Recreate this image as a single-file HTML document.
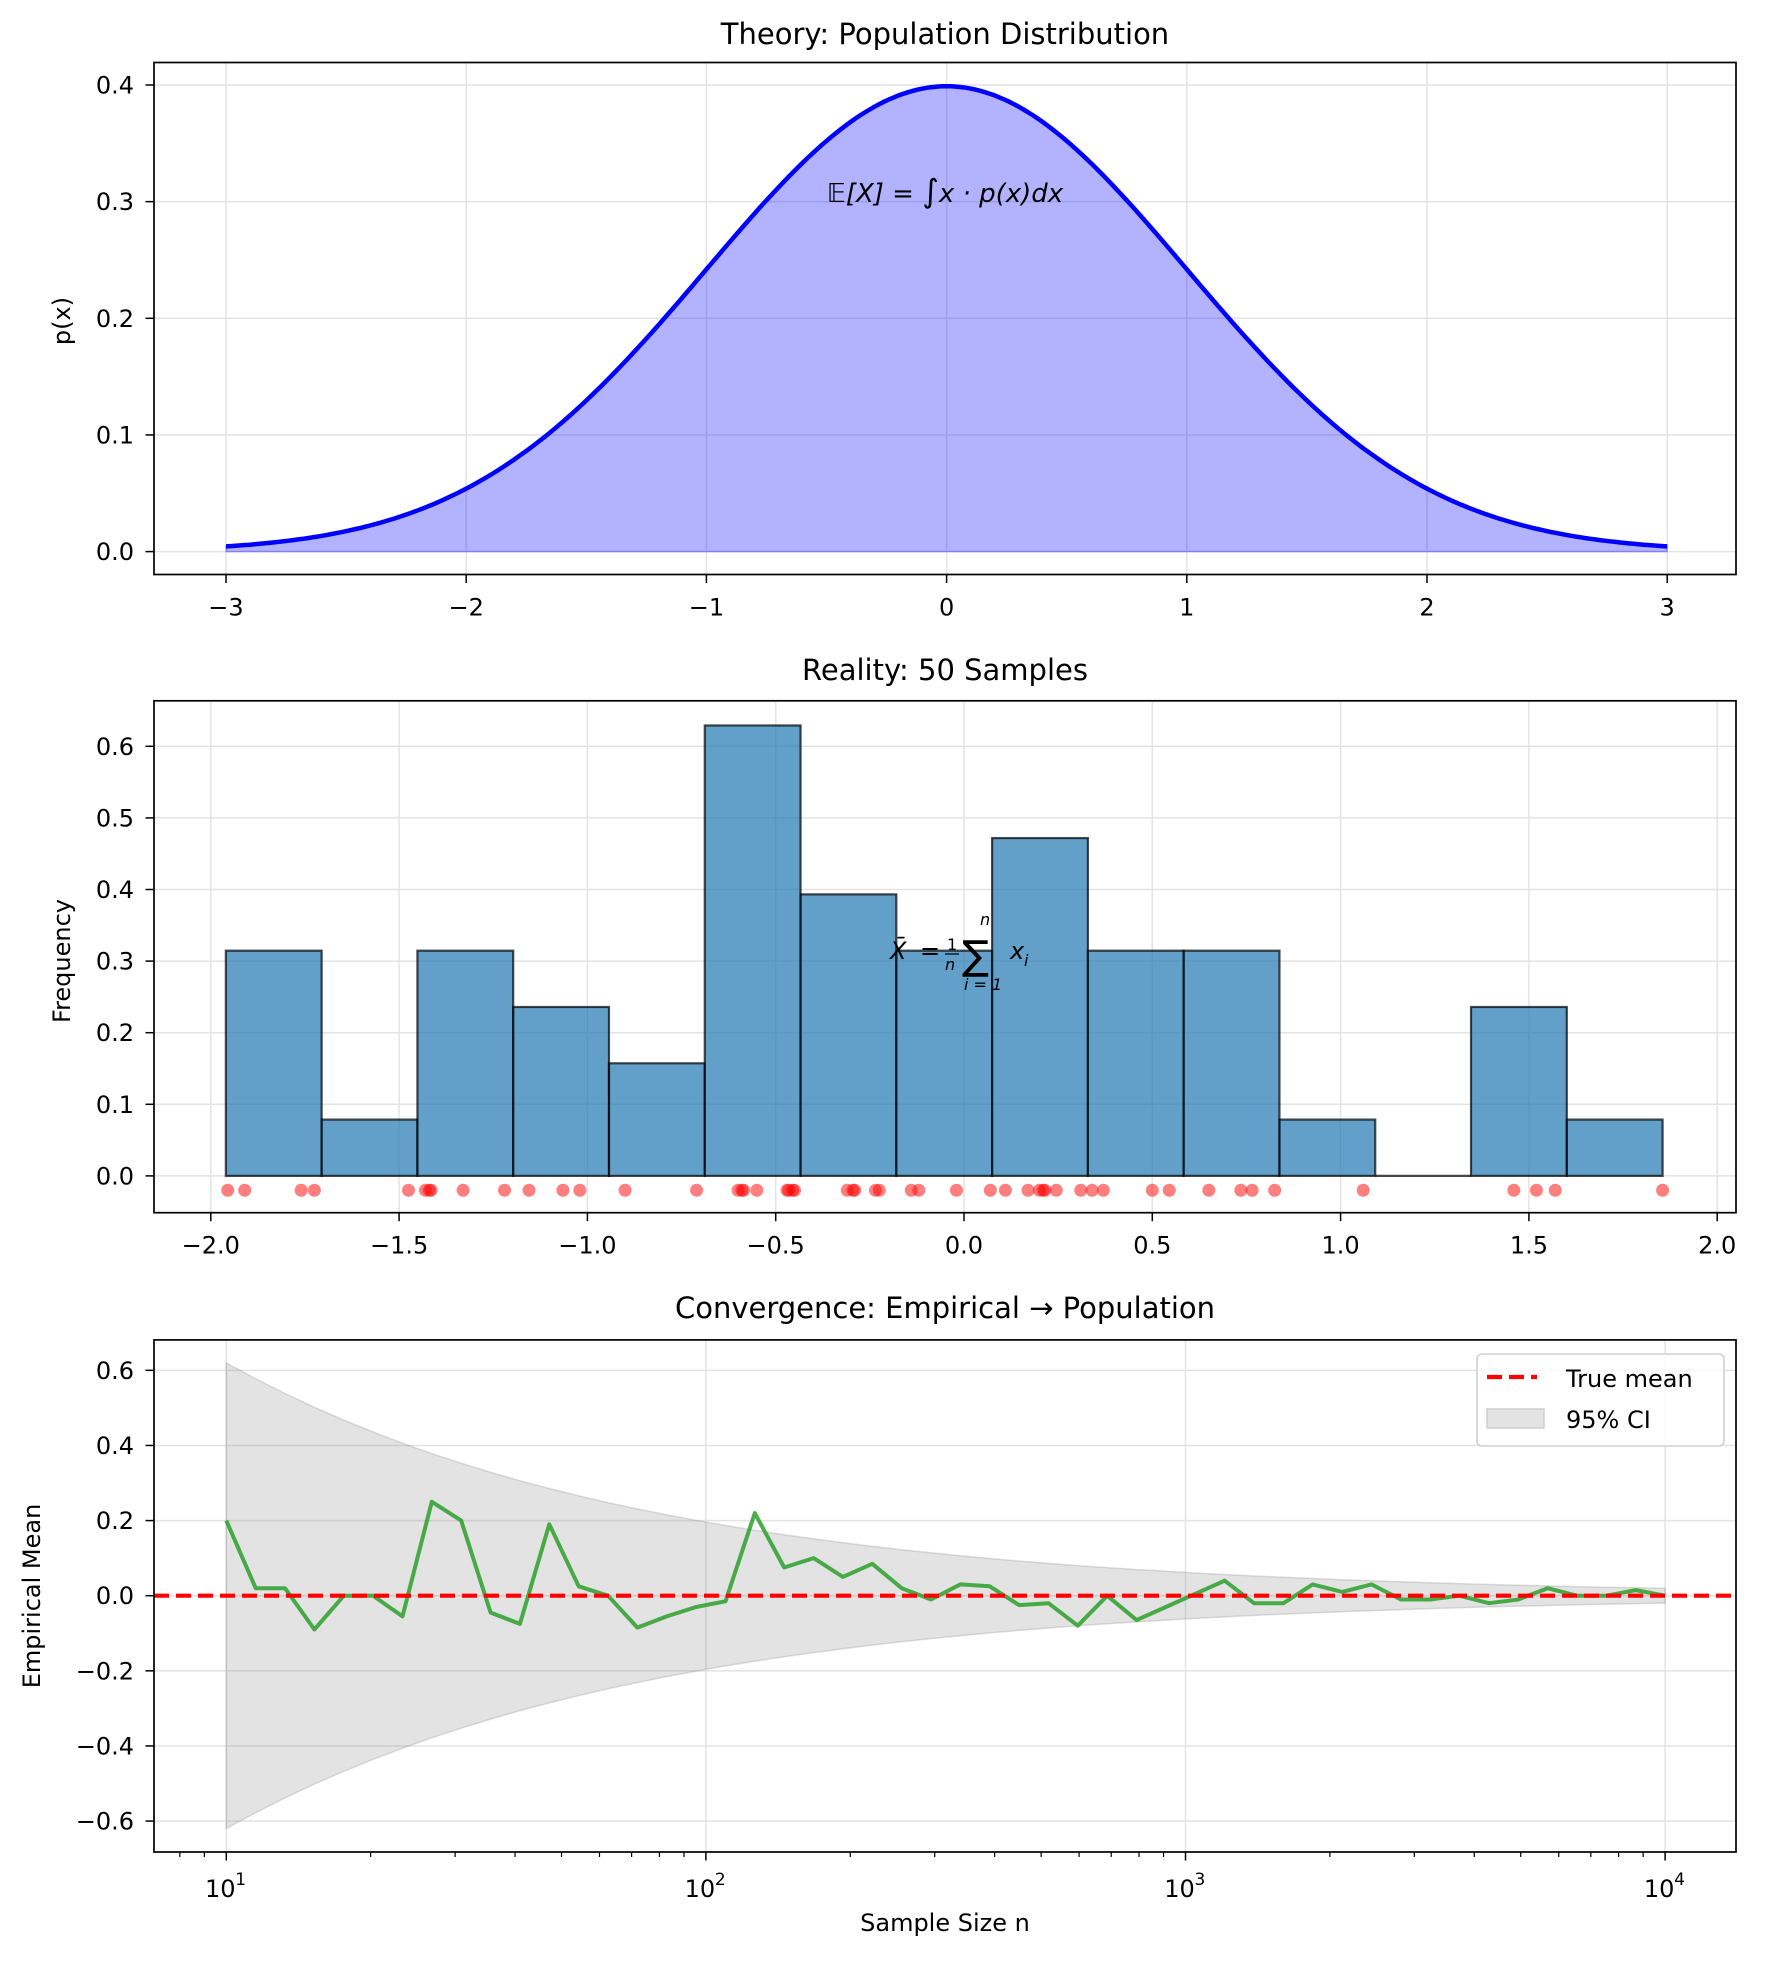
<!DOCTYPE html>
<html><head><meta charset="utf-8"><style>
html,body{margin:0;padding:0;background:#fff}
svg{display:block}
text{font-family:"DejaVu Sans","Liberation Sans",sans-serif;fill:#000}
</style></head><body>
<svg id="s" width="1765" height="1964" viewBox="0 0 1765 1964" xmlns="http://www.w3.org/2000/svg">
<rect width="1765" height="1964" fill="#fff"/>
<g id="g"></g>
<text x="945" y="44" font-size="29" text-anchor="middle">Theory: Population Distribution</text>
<text x="945" y="680" font-size="29" text-anchor="middle">Reality: 50 Samples</text>
<text x="945" y="1318" font-size="29" text-anchor="middle">Convergence: Empirical → Population</text>
<text transform="translate(70,321) rotate(-90)" font-size="24" text-anchor="middle">p(x)</text>
<text transform="translate(70,961) rotate(-90)" font-size="24" text-anchor="middle">Frequency</text>
<text transform="translate(40,1596) rotate(-90)" font-size="24" text-anchor="middle">Empirical Mean</text>
<text x="945" y="1931" font-size="24" text-anchor="middle">Sample Size n</text>
<text x="945" y="202" font-size="26" text-anchor="middle" font-style="italic"><tspan font-style="normal">𝔼</tspan>[X] = <tspan font-style="normal" font-size="32">∫</tspan>x · p(x)dx</text>
<g id="leg"></g>
</svg>
<script>
var NS="http://www.w3.org/2000/svg",G=document.getElementById("g"),LG=document.getElementById("leg");
function el(t,a,txt,par){var e=document.createElementNS(NS,t);for(var k in a)e.setAttribute(k,a[k]);if(txt!==undefined&&txt!==null)e.textContent=txt;(par||G).appendChild(e);return e;}
var L=154,R=1736;
function fmt(v,d){var s=Math.abs(v).toFixed(d);return (v<-1e-9?"\u2212":"")+s;}
function frame(T,B){el("rect",{x:L,y:T,width:R-L,height:B-T,fill:"none",stroke:"#000","stroke-width":1.7});}
function yt(py,lab){el("line",{x1:L,y1:py,x2:R,y2:py,stroke:"#e3e3e3","stroke-width":1.5});el("line",{x1:L-8.5,y1:py,x2:L,y2:py,stroke:"#000","stroke-width":1.5});el("text",{x:134,y:py+8.5,"font-size":24,"text-anchor":"end"},lab);}
function xt(px,lab,T,B){el("line",{x1:px,y1:T,x2:px,y2:B,stroke:"#e3e3e3","stroke-width":1.5});el("line",{x1:px,y1:B,x2:px,y2:B+8.5,stroke:"#000","stroke-width":1.5});el("text",{x:px,y:B+41,"font-size":24,"text-anchor":"middle"},lab);}
// Panel 1
var T1=62.5,B1=574.5;
function X1(x){return 946.6+240.2*x}function Y1(p){return 551.6-1166.5*p}
for(var i=0;i<=4;i++)yt(Y1(i/10),(i/10).toFixed(1));
for(var i=-3;i<=3;i++)xt(X1(i),fmt(i,0),T1,B1);
var pts=[];for(var i=0;i<=300;i++){var x=-3+6*i/300;pts.push(X1(x).toFixed(1)+","+Y1(Math.exp(-x*x/2)/Math.sqrt(2*Math.PI)).toFixed(1));}
el("path",{d:"M"+X1(-3)+","+Y1(0)+" L"+pts.join(" L")+" L"+X1(3)+","+Y1(0)+"Z",fill:"#0000ff","fill-opacity":0.3,stroke:"#0000ff","stroke-opacity":0.3,"stroke-width":1.5});
el("polyline",{points:pts.join(" "),fill:"none",stroke:"#0000ff","stroke-width":4.5});
frame(T1,B1);
// Panel 2
var T2=700.8,B2=1212.7;
function X2(x){return 964+376.6*x}function Y2(v){return 1175.9-716*v}
for(var i=0;i<=6;i++)yt(Y2(i/10),(i/10).toFixed(1));
for(var i=-4;i<=4;i++)xt(X2(i/2),fmt(i/2,1),T2,B2);
var counts=[4,1,4,3,2,8,5,4,6,4,4,1,0,3,1],x0=-1.96,w=(1.855+1.96)/15;
for(var i=0;i<15;i++){var h=counts[i]/(50*w);if(h>0)el("rect",{x:X2(x0+i*w),y:Y2(h),width:376.6*w,height:716*h,fill:"#1f77b4","fill-opacity":0.7,stroke:"#000","stroke-opacity":0.7,"stroke-width":2.2});else el("line",{x1:X2(x0+i*w),y1:Y2(0),x2:X2(x0+(i+1)*w),y2:Y2(0),stroke:"#000","stroke-opacity":0.7,"stroke-width":2.2});}
var xs=[-1.955,-1.91,-1.76,-1.725,-1.475,-1.43,-1.42,-1.415,-1.33,-1.22,-1.155,-1.065,-1.02,-0.9,-0.71,-0.6,-0.59,-0.585,-0.55,-0.47,-0.465,-0.455,-0.45,-0.31,-0.295,-0.29,-0.235,-0.225,-0.14,-0.12,-0.02,0.07,0.11,0.17,0.2,0.21,0.215,0.245,0.31,0.34,0.37,0.5,0.545,0.65,0.735,0.765,0.825,1.06,1.46,1.52,1.57,1.855];
xs.forEach(function(x){el("circle",{cx:X2(x),cy:Y2(-0.02),r:6.5,fill:"#ff0000","fill-opacity":0.5});});
frame(T2,B2);
// formula 2
(function(){var g=el("g",{"font-style":"italic"});
el("text",{x:890,y:959,"font-size":24},"X̄",g);
el("text",{x:920,y:959,"font-size":24,"font-style":"normal"},"=",g);
el("text",{x:947,y:950,"font-size":16,"font-style":"normal"},"1",g);
el("line",{x1:945,y1:954,x2:959,y2:954,stroke:"#000","stroke-width":1.2},null,g);
el("text",{x:945,y:970,"font-size":16},"n",g);
el("text",{x:962,y:969,"font-size":40,"font-style":"normal"},"∑",g);
el("text",{x:980,y:925,"font-size":16},"n",g);
el("text",{x:964,y:990,"font-size":16},"i = 1",g);
el("text",{x:1010,y:959,"font-size":24},"x",g);
el("text",{x:1024,y:966,"font-size":16},"i",g);})();
// Panel 3
var T3=1339.9,B3=1852;
function X3(n){return 226.3+479.6*(Math.log10(n)-1)}function Y3(v){return 1595.7-375.6*v}
for(var i=-3;i<=3;i++)yt(Y3(i*0.2),fmt(i*0.2,1));
for(var d=1;d<=4;d++){var px=X3(Math.pow(10,d));el("line",{x1:px,y1:T3,x2:px,y2:B3,stroke:"#e3e3e3","stroke-width":1.5});el("line",{x1:px,y1:B3,x2:px,y2:B3+8.5,stroke:"#000","stroke-width":1.5});
el("text",{x:px-6,y:B3+45,"font-size":24,"text-anchor":"middle"},"10");el("text",{x:px+9,y:B3+33,"font-size":17},""+d);}
for(var d=0;d<=3;d++)for(var m=2;m<=9;m++){var n=m*Math.pow(10,d);var px=X3(n);if(px<L||px>R)continue;el("line",{x1:px,y1:B3,x2:px,y2:B3+5,stroke:"#000","stroke-width":1.2});}
var N=50,ns=[];for(var i=0;i<N;i++)ns.push(Math.pow(10,1+3*i/(N-1)));
var up=[],lo=[];ns.forEach(function(n){var c=1.96/Math.sqrt(n);up.push(X3(n).toFixed(1)+","+Y3(c).toFixed(1));lo.unshift(X3(n).toFixed(1)+","+Y3(-c).toFixed(1));});
el("path",{d:"M"+up.join(" L")+" L"+lo.join(" L")+"Z",fill:"#808080","fill-opacity":0.22,stroke:"#808080","stroke-opacity":0.25,"stroke-width":1.5});
var v=[0.20,0.02,0.02,-0.09,0,0,-0.055,0.25,0.20,-0.045,-0.075,0.19,0.025,0,-0.085,-0.055,-0.03,-0.015,0.22,0.075,0.10,0.05,0.085,0.02,-0.01,0.03,0.025,-0.025,-0.02,-0.08,
0.0,-0.065,-0.03,0.005,0.04,-0.02,-0.02,0.03,0.01,0.03,-0.01,-0.01,0,-0.02,-0.01,0.02,0,0,0.015,0];
var gp=[];for(var i=0;i<N;i++)gp.push(X3(ns[i]).toFixed(1)+","+Y3(v[i]).toFixed(1));
el("polyline",{points:gp.join(" "),fill:"none",stroke:"#2ca02c","stroke-opacity":0.85,"stroke-width":4,"stroke-linejoin":"round"});
el("line",{x1:L,y1:Y3(0),x2:R,y2:Y3(0),stroke:"#ff0000","stroke-width":4.2,"stroke-dasharray":"15,7"});
frame(T3,B3);
// legend
el("rect",{x:1477,y:1354,width:247,height:92,rx:5,fill:"#fff","fill-opacity":0.8,stroke:"#d0d0d0","stroke-width":1.6},null,LG);
el("line",{x1:1487,y1:1377,x2:1537,y2:1377,stroke:"#f00","stroke-width":4.2,"stroke-dasharray":"15,7"},null,LG);
el("text",{x:1566,y:1387,"font-size":24},"True mean",LG);
el("rect",{x:1487,y:1409,width:57,height:19,fill:"#e3e3e3",stroke:"#cfcfcf","stroke-width":1.5},null,LG);
el("text",{x:1566,y:1428,"font-size":24},"95% CI",LG);
</script>
</body></html>
